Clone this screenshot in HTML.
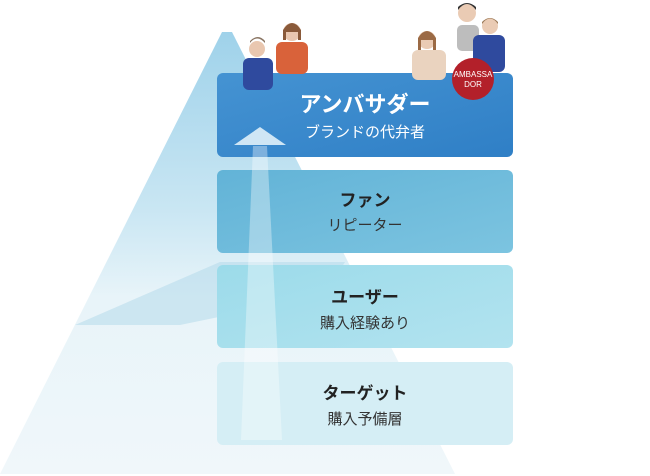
<!DOCTYPE html>
<html><head><meta charset="utf-8"><style>
body{margin:0;background:#fff;width:650px;height:476px;overflow:hidden}
svg{display:block}
text{font-family:"Liberation Sans","Noto Sans CJK JP",sans-serif;text-anchor:middle}
</style></head><body>
<svg width="650" height="476" viewBox="0 0 650 476">
<defs>
<linearGradient id="tri" x1="0" y1="0" x2="0" y2="1">
<stop offset="0" stop-color="#9fd2ea"/><stop offset="0.4" stop-color="#c9e6f3"/><stop offset="0.6" stop-color="#e8f4f9"/><stop offset="1" stop-color="#f0f7fa"/></linearGradient>
<linearGradient id="b1" x1="0" y1="0" x2="1" y2="1"><stop offset="0" stop-color="#4593d2"/><stop offset="1" stop-color="#2f7fc6"/></linearGradient>
<linearGradient id="b2" x1="0" y1="0" x2="1" y2="1"><stop offset="0" stop-color="#62b3d7"/><stop offset="1" stop-color="#7cc4e0"/></linearGradient>
<linearGradient id="b3" x1="0" y1="0" x2="1" y2="1"><stop offset="0" stop-color="#9cdbea"/><stop offset="1" stop-color="#b2e3ef"/></linearGradient>
</defs>
<polygon points="222,32 232,32 455,474 0,474" fill="url(#tri)"/>
<polygon points="75,325 220,262 345,262 325,295 180,325" fill="#b0d8ea" opacity="0.5"/>
<rect x="217" y="73" width="296" height="84" rx="6" fill="url(#b1)"/>
<rect x="217" y="170" width="296" height="83" rx="6" fill="url(#b2)"/>
<rect x="217" y="265" width="296" height="83" rx="6" fill="url(#b3)"/>
<rect x="217" y="362" width="296" height="83" rx="6" fill="#d5eef5"/>
<polygon points="253,146 267,146 282,440 241,440" fill="#ffffff" opacity="0.35"/>
<polygon points="260,127 286,145 234,145" fill="#cfe6f5"/>
<circle cx="257" cy="49" r="8" fill="#e9c7b0"/><path d="M250 43 q7-9 15 0 v-2 q-7-8-15 0z" fill="#8a7563"/>
<rect x="243" y="58" width="30" height="32" rx="6" fill="#2f4a9e"/>
<circle cx="292" cy="32" r="9" fill="#e9c7b0"/><path d="M283 30 q9-14 18 0 v10 h-3 v-8 h-12 v8 h-3z" fill="#8a5a3a"/>
<rect x="276" y="42" width="32" height="32" rx="6" fill="#d9623a"/>
<circle cx="427" cy="40" r="9" fill="#eacbb4"/><path d="M418 38 q9-14 18 0 v12 h-3 v-10 h-12 v10 h-3z" fill="#9b6a45"/>
<rect x="412" y="50" width="34" height="30" rx="6" fill="#ead3bf"/>
<circle cx="467" cy="13" r="9" fill="#eacbb4"/><path d="M458 10 q9-12 18 0 v-3 q-9-8-18 0z" fill="#333"/>
<rect x="457" y="25" width="22" height="26" rx="5" fill="#bdbdbd"/>
<circle cx="490" cy="26" r="8" fill="#eacbb4"/><path d="M482 24 q8-11 16 0 v-2 q-8-8-16 0z" fill="#9b7a58"/>
<rect x="473" y="35" width="32" height="37" rx="6" fill="#2f4a9e"/>
<circle cx="473" cy="79" r="21" fill="#b3202a"/>
<text x="473" y="77" font-size="8" fill="#fff">AMBASSA</text>
<text x="473" y="87" font-size="8" fill="#fff">DOR</text>
<text x="365" y="112" font-size="22" font-weight="bold" fill="#fff">アンバサダー</text>
<text x="365" y="137" font-size="15" fill="#fff">ブランドの代弁者</text>
<text x="365" y="206" font-size="17" font-weight="bold" fill="#222">ファン</text>
<text x="365" y="230" font-size="15" fill="#333">リピーター</text>
<text x="365" y="303" font-size="17" font-weight="bold" fill="#222">ユーザー</text>
<text x="365" y="328" font-size="15" fill="#333">購入経験あり</text>
<text x="365" y="399" font-size="17" font-weight="bold" fill="#222">ターゲット</text>
<text x="365" y="424" font-size="15" fill="#333">購入予備層</text>
</svg>
</body></html>
